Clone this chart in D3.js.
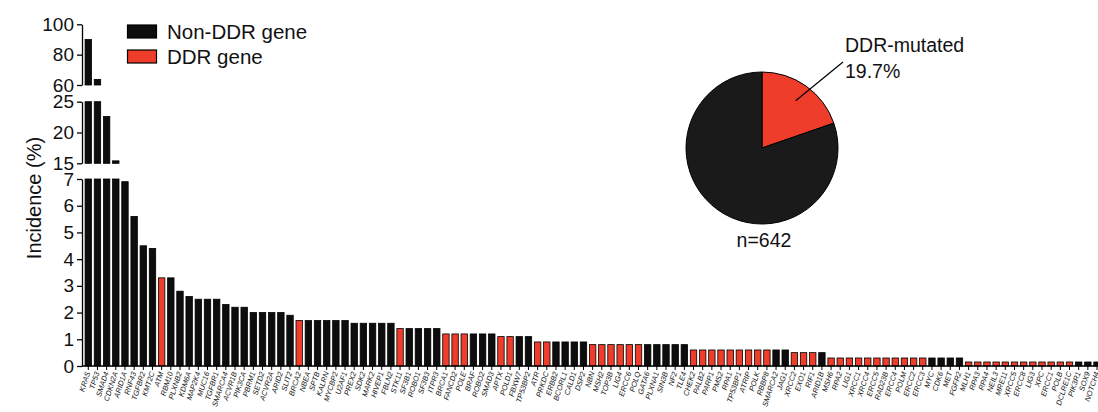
<!DOCTYPE html>
<html><head><meta charset="utf-8">
<script src="https://cdn.jsdelivr.net/npm/d3@7"></script>
<style>
body{margin:0;background:#fff}
svg{display:block;font-family:Arial,"Liberation Sans",sans-serif}
</style>
</head><body>
<svg id="c" width="1098" height="412"></svg>
<script>
const genes = ["KRAS","TP53","SMAD4","CDKN2A","ARID1A","RNF43","TGFBR2","KMT2C","ATM","RBM10",
"PLXNB2","KDM6A","MAP2K4","MUC16","TGFBR1","SMARCA4","ACVR1B","PIK3CA","PBRM1","SETD2",
"ACVR2A","ARID2","SLIT2","BRCA2","NBEA","SPTB","KALRN","MYCBP2","U2AF1","PREX2",
"SDK2","MARK2","HIVEP1","FBLN2","STK11","SF3B1","ROBO1","SF3B3","ITPR3","BRCA1",
"FANCD2","POLE","BRAF","ROBO2","SMAD3","APTX","POLD1","FBXW7","TP53BP2","ATR",
"PRKDC","ERBB2","BCORL1","CALD1","DSP2","NBN","MSH2","TOP3B","LIG4","ERCC6",
"POLQ","GATA6","PLXNA1","SIN3B","NF2","TLE4","CHEK2","PALB2","PARP1","PMS2",
"RPA1","TP53BP1","ATRIP","POLK","RBBP8","SMARCA2","JAG1","XRCC2","EXO1","RIF1",
"ARID1B","MSH6","RPA2","LIG1","XRCC1","XRCC4","ERCC5","RAD23B","ERCC4","POLM",
"ERCC2","ERCC3","MYC","CDK6","MET","FGFR2","MLH1","RPA3","RPA4","NEIL3",
"MRE11","XRCC5","ERCC8","LIG3","XPC","ERCC1","POLB","DCLRE1C","PIK3R1","SOX9","NOTCH4"];

const values = [90.0,63.7,22.6,15.4,6.9,5.6,4.5,4.4,3.3,3.3,
2.8,2.6,2.5,2.5,2.5,2.3,2.2,2.2,2.0,2.0,
2.0,2.0,1.9,1.7,1.7,1.7,1.7,1.7,1.7,1.6,
1.6,1.6,1.6,1.6,1.4,1.4,1.4,1.4,1.4,1.2,
1.2,1.2,1.2,1.2,1.2,1.1,1.1,1.1,1.1,0.9,
0.9,0.9,0.9,0.9,0.9,0.8,0.8,0.8,0.8,0.8,
0.8,0.8,0.8,0.8,0.8,0.8,0.6,0.6,0.6,0.6,
0.6,0.6,0.6,0.6,0.6,0.6,0.6,0.5,0.5,0.5,
0.5,0.3,0.3,0.3,0.3,0.3,0.3,0.3,0.3,0.3,
0.3,0.3,0.3,0.3,0.3,0.3,0.15,0.15,0.15,0.15,
0.15,0.15,0.15,0.15,0.15,0.15,0.15,0.15,0.15,0.15,0.15];

const ddrGenes = ["ATM","BRCA2","STK11","BRCA1","FANCD2","POLE","APTX","POLD1","ATR","PRKDC",
"NBN","MSH2","TOP3B","LIG4","ERCC6","POLQ","CHEK2","PALB2","PARP1","PMS2","RPA1","TP53BP1",
"ATRIP","POLK","RBBP8","XRCC2","EXO1","RIF1","MSH6","RPA2","LIG1","XRCC1","XRCC4","ERCC5",
"RAD23B","ERCC4","POLM","ERCC2","ERCC3","MLH1","RPA3","RPA4","NEIL3","MRE11","XRCC5","ERCC8",
"LIG3","XPC","ERCC1","POLB","DCLRE1C"];

const ticksTop = [60,80,100];
const ticksMid = [15,20,25];
const ticksLow = [0,1,2,3,4,5,6,7];

const legendLabels = ["Non-DDR gene","DDR gene"];
const pieLabels = ["DDR-mutated","Non-DDR"];
const pieValues = [19.7, 80.3];
const pieTotal = "n=642";

const BLACK = "#0d0d0d", RED = "#ee3d2a";
const svg = d3.select("#c");

const x = d3.scaleBand().domain(genes).range([83.7, 1101.6]).paddingInner(0.3).paddingOuter(0.15);

const segments = [
  {domain:[0,7], range:[366,179], ticks:ticksLow},
  {domain:[15,25], range:[163.3,101.7], ticks:ticksMid},
  {domain:[60,100], range:[85,24.3], ticks:ticksTop}
];
const data = genes.map((g,i)=>({g, v:values[i], ddr: ddrGenes.includes(g)}));

segments.forEach(s=>{
  const y = d3.scaleLinear().domain(s.domain).range(s.range);
  const ax = svg.append("g").attr("transform","translate(82,0)")
    .call(d3.axisLeft(y).tickValues(s.ticks).tickFormat(d3.format("d")).tickSize(5).tickSizeOuter(0).tickPadding(3));
  ax.selectAll("text").attr("font-size",19).attr("fill","#111").attr("font-family","Arial,'Liberation Sans',sans-serif");
  ax.selectAll("line,path").attr("stroke","#000").attr("stroke-width",1.3);
  svg.append("g").selectAll("rect").data(data.filter(d=>d.v> s.domain[0])).join("rect")
    .attr("x",d=>x(d.g)).attr("width",x.bandwidth())
    .attr("y",d=>y(Math.min(d.v,s.domain[1])))
    .attr("height",d=>y(s.domain[0])-y(Math.min(d.v,s.domain[1])))
    .attr("fill",d=>d.ddr?RED:BLACK).attr("stroke","#000").attr("stroke-width",0.8);
});

// x axis
const xa = svg.append("g").attr("transform","translate(0,366)")
  .call(d3.axisBottom(x).tickSize(4).tickSizeOuter(0).tickPadding(2));
xa.select(".domain").attr("d","M82,0H1098").attr("stroke","#000").attr("stroke-width",1.3);
xa.selectAll("line").attr("stroke","#000");
xa.selectAll("text").attr("font-size",7.5).attr("font-style","italic").attr("fill","#111")
  .attr("text-anchor","end").attr("dy","0.3em")
  .attr("transform","translate(0,6) rotate(-72)").attr("x",0).attr("y",0);

// y label
svg.append("text").attr("transform","translate(34,198) rotate(-90)")
  .attr("text-anchor","middle").attr("dy","0.35em").attr("font-size",20).attr("fill","#111")
  .text("Incidence (%)");

// legend
const lg = svg.append("g");
legendLabels.forEach((t,i)=>{
  lg.append("rect").attr("x",127.5).attr("y",25+i*25).attr("width",29).attr("height",13)
    .attr("fill",i?RED:BLACK).attr("stroke","#000").attr("stroke-width",1.2);
  lg.append("text").attr("x",167).attr("y",31.5+i*25).attr("dy","0.36em")
    .attr("font-size",20.5).attr("fill","#111").text(t);
});

// pie
const pg = svg.append("g").attr("transform","translate(762,148)");
const arcs = d3.pie().sort(null)(pieValues);
const arc = d3.arc().innerRadius(0).outerRadius(76);
pg.selectAll("path").data(arcs).join("path").attr("d",arc)
  .attr("fill",(d,i)=>i===0?RED:"#1a1a1a").attr("stroke","#000").attr("stroke-width",1);
const lp = d3.arc().innerRadius(58).outerRadius(58).centroid(arcs[0]);
pg.append("line").attr("x1",lp[0]).attr("y1",lp[1]).attr("x2",81).attr("y2",-86)
  .attr("stroke","#000").attr("stroke-width",1.2);
svg.append("text").attr("x",845).attr("y",45).attr("dy","0.36em").attr("font-size",19.5).attr("fill","#111").text(pieLabels[0]);
svg.append("text").attr("x",845).attr("y",71).attr("dy","0.36em").attr("font-size",19.5).attr("fill","#111").text(pieValues[0]+"%");
svg.append("text").attr("x",764).attr("y",240).attr("dy","0.36em").attr("text-anchor","middle").attr("font-size",19.5).attr("fill","#111").text(pieTotal);
</script>
</body></html>
